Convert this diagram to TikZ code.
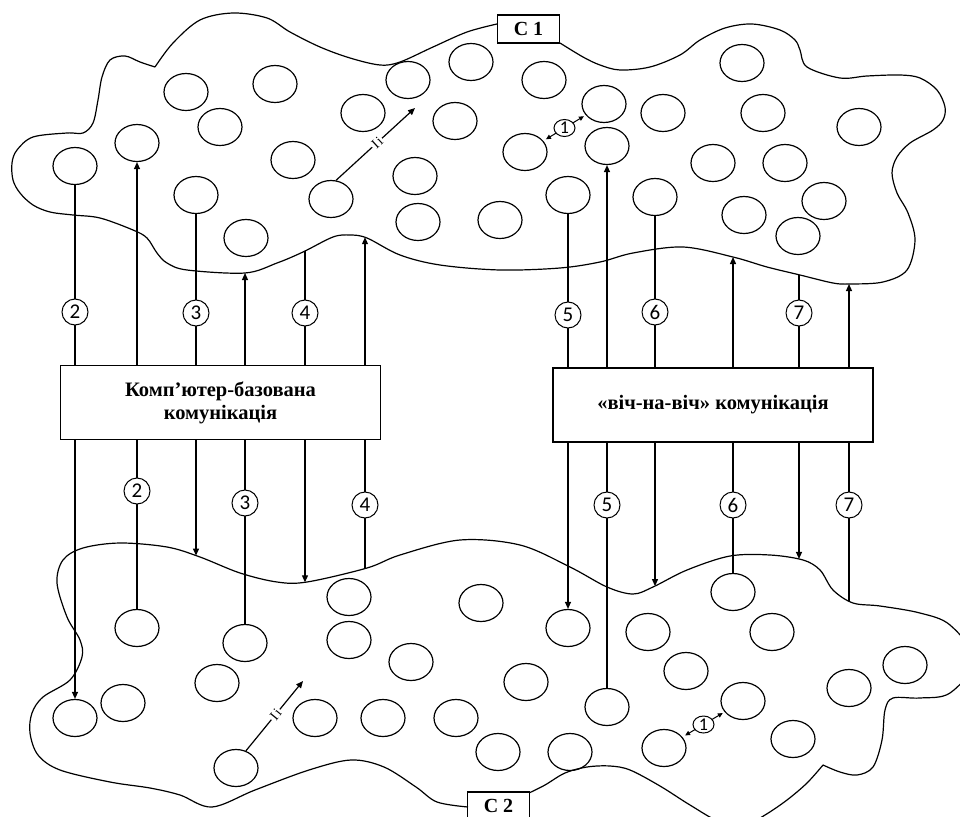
\documentclass[tikz,border=0pt]{standalone}
\usepackage{fontspec}
\setmainfont{Liberation Serif}
\newfontfamily\digitfont{Carlito}
\usetikzlibrary{shapes.geometric,arrows.meta,intersections}
\begin{document}
\begin{tikzpicture}[x=1pt,y=-1pt,line width=1.2pt,
  cell/.style={ellipse,draw,minimum width=44pt,minimum height=37pt,inner sep=0pt},
  numtag/.style={circle,draw,fill=white,minimum size=26pt,inner sep=0pt,line width=1pt,font=\digitfont\fontsize{21}{21}\selectfont},
  linktag/.style={ellipse,draw,fill=white,minimum width=21pt,minimum height=17pt,inner sep=0pt,line width=1pt,font=\digitfont\fontsize{18}{18}\selectfont},
  hub/.style={rectangle,draw,fill=white,minimum width=320pt,minimum height=74pt,align=center,font=\bfseries\fontsize{20.5}{23}\selectfont},
  groupbox/.style={rectangle,draw,fill=white,minimum width=62pt,minimum height=28pt,inner sep=0pt,font=\bfseries\fontsize{20}{20}\selectfont},
  arr/.style={-{Triangle[length=7pt,width=6pt]}},
  twoway/.style={{Triangle[length=5pt,width=4.5pt]}-{Triangle[length=5pt,width=4.5pt]},line width=1pt,shorten <=3pt,shorten >=2pt},
  gap/.style={fill=white,sloped,inner sep=1.5pt,font=\fontsize{14}{14}\selectfont},
  ]
\useasboundingbox (0,0) rectangle (960,816);
\fill[white] (0,0) rectangle (960,816);
\clip (0,0) rectangle (960,816);

% group labels
\node[groupbox] (g1) at (528.5,29) {C 1};
\node[groupbox] (g2) at (498.5,806) {C 2};

% outline of group C1
\draw[name path=cloudA] plot[smooth,tension=0.55] coordinates {
 (560,43) (583,57) (600,65) (620,70) (650,67) (680,55) (700,40) (725,28) (752,24) (780,30) (795,40) (800,50)
 (807,67) (840,78) (867,76) (900,75) (920,78) (937,90) (945,107) (943,120) (933,130) (910,143) (897,157)
 (892,173) (897,193) (908,213) (915,240) (907,270) (883,282) (850,284) (833,283) (800,275) (767,267) (733,257)
 (683,247) (633,253) (600,262) (560,268) (500,270) (440,265) (400,255) (367,238) (350,235) (333,237) (303,252)
 (277,263) (245,273) (187,270) (167,263) (157,253) (147,238) (133,230) (100,218) (73,215) (50,212) (33,205)
 (20,193) (13,180) (12,163) (17,150) (33,137) (67,133) (83,133) (93,123) (98,100) (102,77) (110,60) (125,56)
 (140,62) (155,67)}
 plot[smooth,tension=0.55] coordinates {(155,67) (173,43) (200,20) (233,13) (267,18) (290,32) (320,47)
 (350,58) (380,65) (400,62) (433,47) (467,32) (497,24)};

% outline of group C2
\draw[name path=cloudB] plot[smooth,tension=0.55] coordinates {
 (529,793) (545,785) (565,773) (587,767) (610,766) (630,770) (660,786) (690,805) (720,822) (745,825) (765,815)
 (787,800) (807,783) (823,765)}
 plot[smooth,tension=0.55] coordinates {(823,765) (840,772) (857,775) (873,767) (882,740) (885,710) (893,698)
 (920,698) (950,693) (975,660) (950,625) (920,613) (880,606) (853,603) (833,590) (820,570) (803,560) (770,555)
 (730,556) (687,570) (653,587) (633,594) (607,587) (570,567) (520,545) (460,540) (400,555) (367,568) (307,582)
 (277,582) (240,573) (200,557) (167,547) (120,543) (83,548) (63,560) (57,583) (67,617) (80,640) (82,657)
 (70,680) (43,697) (32,713) (30,733) (38,755) (60,770) (110,782) (150,788) (180,795) (212,807) (255,790)
 (309,770) (351,760) (384,767) (416,787) (437,802) (468,807)};

% points where the links meet the outlines
\foreach \x/\n in {245/a1,305/a2,365/a3,733/a4,799/a5,849/a6}{
  \path[name path=probe] (\x,200) -- (\x,360);
  \path[name intersections={of=cloudA and probe,by={\n}}];
}
\foreach \x/\n in {196/b1,305/b2,365/b3,655/b4,799/b5,849/b6}{
  \path[name path=probe] (\x,460) -- (\x,640);
  \path[name intersections={of=cloudB and probe,by={\n}}];
}

% members of C1
\node[cell] (tA) at (75,166) {};
\node[cell] (tB) at (137,143) {};
\node[cell] (tC) at (196,195) {};
\node[cell] (tD) at (568,195) {};
\node[cell] (tE) at (607,146) {};
\node[cell] (tF) at (655,197) {};
\node[cell] (tG) at (331,199) {};
\node[cell] (tH) at (525,152) {};
\node[cell] (tI) at (604,104) {};
\foreach \p [count=\i] in {(186,92),(220,127),(275,84),(293,160),(246,238),(363,113),(408,80),(471,62),
  (544,80),(455,121),(415,176),(418,222),(500,220),(663,113),(742,63),(763,113),(859,127),(713,163),
  (785,163),(744,215),(824,201),(798,236)}
  \node[cell] (tx\i) at \p {};

% members of C2
\node[cell] (bA) at (75,718) {};
\node[cell] (bB) at (137,628) {};
\node[cell] (bC) at (245,643) {};
\node[cell] (bD) at (568,628) {};
\node[cell] (bE) at (607,707) {};
\node[cell] (bF) at (733,592) {};
\node[cell] (bG) at (236,768) {};
\node[cell] (bH) at (664,748) {};
\node[cell] (bI) at (743,701) {};
\foreach \p [count=\i] in {(123,703),(217,683),(315,718),(349,597),(349,640),(383,718),(411,662),(456,718),
  (481,603),(498,752),(526,682),(570,752),(648,632),(686,671),(772,632),(793,739),(849,688),(905,665)}
  \node[cell] (bx\i) at \p {};

% communication channels
\node[hub] (lhub) at (220.5,402.5) {Комп’ютер-базована\\комунікація};
\node[hub] (rhub) at (713,405) {«віч-на-віч» комунікація};

% links between C1 and the channels
\draw (tA) -- (tA |- lhub.north);
\draw[arr] (lhub.north -| tB) -- (tB);
\draw (tC) -- (tC |- lhub.north);
\draw[arr] (lhub.north -| a1) -- (a1);
\draw (a2) -- (a2 |- lhub.north);
\draw[arr] (lhub.north -| a3) -- (a3);
\draw (tD) -- (tD |- rhub.north);
\draw[arr] (rhub.north -| tE) -- (tE);
\draw (tF) -- (tF |- rhub.north);
\draw[arr] (rhub.north -| a4) -- (a4);
\draw (a5) -- (a5 |- rhub.north);
\draw[arr] (rhub.north -| a6) -- (a6);

% links between the channels and C2
\draw[arr] (lhub.south -| bA) -- (bA);
\draw (lhub.south -| bB) -- (bB);
\draw[arr] (lhub.south -| b1) -- (b1);
\draw (lhub.south -| bC) -- (bC);
\draw[arr] (lhub.south -| b2) -- (b2);
\draw (lhub.south -| b3) -- (b3);
\draw[arr] (rhub.south -| bD) -- (bD);
\draw (rhub.south -| bE) -- (bE);
\draw[arr] (rhub.south -| b4) -- (b4);
\draw (rhub.south -| bF) -- (bF);
\draw[arr] (rhub.south -| b5) -- (b5);
\draw (rhub.south -| b6) -- (b6);

% link numbers
\node[numtag] (u2) at (75,312) {2};
\node[numtag] (u3) at (196,313) {3};
\node[numtag] (u4) at (305,313) {4};
\node[numtag] (u5) at (568,315) {5};
\node[numtag] (u6) at (655,312) {6};
\node[numtag] (u7) at (799,313) {7};
\node[numtag] (d2) at (137,491) {2};
\node[numtag] (d3) at (245,503) {3};
\node[numtag] (d4) at (365,505) {4};
\node[numtag] (d5) at (607,505) {5};
\node[numtag] (d6) at (733,505) {6};
\node[numtag] (d7) at (849,505) {7};

% links inside the groups
\coordinate (tipA) at (415,108);
\coordinate (tipB) at (303,681);
\draw[arr] (tG.75) -- node[gap,pos=0.52] {I\kern1.5pt i} (tipA);
\draw[arr] (bG.60) -- node[gap,pos=0.52] {I\kern1.5pt i} (tipB);
\draw[twoway] (tH) -- node[linktag] {1} (tI);
\draw[twoway] (bH) -- node[linktag] {1} (bI);
\end{tikzpicture}
\end{document}
